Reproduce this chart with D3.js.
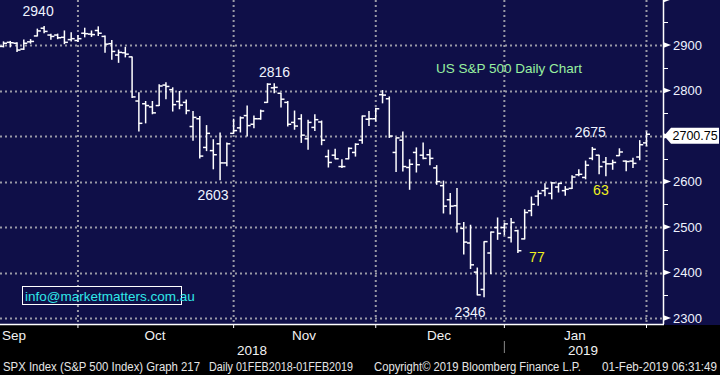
<!DOCTYPE html>
<html>
    <head>
        <meta charset="utf-8">
        <title>US S&P 500 Daily Chart</title>
        <script src='https://d3js.org/d3.v7.min.js'></script>
        <style>
            body { margin: 0; background: #000; }
            svg { display: block; }
            text { font-family: "Liberation Sans", Arial, sans-serif; }
        </style>
    </head>
    <body>
        <svg class="chart" width="720" height="375"></svg>

        <script>
            // trading days shown on the chart (Sep 2018 - Jan 2019)
            const dates = [
                "2018-09-13","2018-09-14","2018-09-17","2018-09-18","2018-09-19","2018-09-20","2018-09-21","2018-09-24","2018-09-25","2018-09-26","2018-09-27","2018-09-28",
                "2018-10-01","2018-10-02","2018-10-03","2018-10-04","2018-10-05","2018-10-08","2018-10-09","2018-10-10","2018-10-11","2018-10-12","2018-10-15","2018-10-16","2018-10-17","2018-10-18","2018-10-19","2018-10-22","2018-10-23","2018-10-24","2018-10-25","2018-10-26","2018-10-29","2018-10-30","2018-10-31",
                "2018-11-01","2018-11-02","2018-11-05","2018-11-06","2018-11-07","2018-11-08","2018-11-09","2018-11-12","2018-11-13","2018-11-14","2018-11-15","2018-11-16","2018-11-19","2018-11-20","2018-11-21","2018-11-23","2018-11-26","2018-11-27","2018-11-28","2018-11-29","2018-11-30",
                "2018-12-03","2018-12-04","2018-12-06","2018-12-07","2018-12-10","2018-12-11","2018-12-12","2018-12-13","2018-12-14","2018-12-17","2018-12-18","2018-12-19","2018-12-20","2018-12-21","2018-12-24","2018-12-26","2018-12-27","2018-12-28","2018-12-31",
                "2019-01-02","2019-01-03","2019-01-04","2019-01-07","2019-01-08","2019-01-09","2019-01-10","2019-01-11","2019-01-14","2019-01-15","2019-01-16","2019-01-17","2019-01-18","2019-01-22","2019-01-23","2019-01-24","2019-01-25","2019-01-28","2019-01-29","2019-01-30","2019-01-31"
            ]

            const opens = [
                2897,2906,2904,2891,2907,2920,2937,2922,2922,2917,2912,2910,
                2926,2924,2932,2919,2903,2878,2883,2874,2777,2771,2764,2767,2812,2802,2776,2774,2721,2738,2675,2668,2683,2641,2706,
                2718,2745,2726,2738,2774,2806,2794,2774,2730,2738,2694,2719,2731,2655,2658,2633,2650,2664,2691,2737,2738,
                2791,2782,2664,2691,2631,2664,2658,2659,2630,2591,2560,2547,2497,2465,2401,2363,2443,2499,2499,
                2477,2492,2474,2536,2568,2580,2574,2588,2580,2585,2615,2609,2651,2658,2643,2639,2657,2645,2645,2654,2685
            ]
            const highs = [
                2907,2908,2905,2911,2912,2935,2941,2924,2924,2931,2927,2921,
                2937,2931,2940,2920,2910,2889,2895,2874,2795,2776,2776,2813,2817,2806,2798,2779,2754,2743,2723,2692,2707,2685,2737,
                2742,2766,2744,2757,2815,2815,2794,2776,2755,2747,2735,2747,2733,2669,2671,2648,2674,2683,2744,2754,2761,
                2800,2786,2696,2709,2648,2674,2685,2670,2635,2601,2574,2585,2510,2504,2410,2468,2489,2520,2509,
                2519,2493,2538,2566,2580,2595,2598,2596,2589,2613,2626,2645,2675,2658,2653,2647,2672,2645,2651,2690,2709
            ]
            const lows = [
                2896,2896,2886,2890,2904,2920,2927,2913,2914,2903,2909,2908,
                2918,2919,2921,2884,2869,2862,2874,2785,2711,2729,2749,2767,2782,2755,2760,2749,2691,2652,2668,2628,2604,2635,2706,
                2709,2700,2718,2737,2774,2795,2764,2722,2715,2686,2671,2712,2681,2632,2650,2631,2650,2656,2684,2723,2733,
                2773,2697,2622,2623,2583,2621,2650,2637,2594,2531,2529,2489,2441,2409,2351,2347,2398,2473,2483,
                2467,2444,2474,2525,2548,2569,2562,2577,2570,2585,2613,2606,2648,2617,2613,2627,2657,2624,2631,2648,2679
            ]
            const closes = [
                2904,2905,2889,2904,2908,2931,2930,2919,2916,2906,2914,2914,
                2925,2923,2926,2902,2886,2884,2880,2786,2728,2767,2751,2810,2809,2769,2768,2756,2741,2656,2706,2659,2641,2683,2712,
                2740,2723,2738,2755,2814,2807,2781,2726,2722,2702,2730,2736,2691,2642,2650,2633,2673,2682,2744,2738,2760,
                2790,2700,2696,2633,2638,2637,2651,2651,2600,2546,2546,2507,2467,2417,2351,2468,2489,2486,2507,
                2510,2448,2532,2550,2574,2585,2597,2596,2583,2610,2616,2636,2671,2633,2639,2642,2665,2644,2640,2681,2704
            ]

            // month labels, month end bars, price axis ticks
            const months = [
                {label: "Sep", x: 14}, {label: "Oct", x: 155}, {label: "Nov", x: 304},
                {label: "Dec", x: 439}, {label: "Jan", x: 575}
            ]
            const monthEnds = ["2018-09-28","2018-10-31","2018-11-30","2018-12-31","2019-01-31"]
            const yTicks = [2300, 2400, 2500, 2600, 2700, 2800, 2900]
            const yMinor = [2350, 2450, 2550, 2650, 2750, 2850, 2950]

            // labels written on the chart: [text, date, value, dx, dy, colour]
            const notes = [
                ["2940", "2018-09-21", 2940.9, -6, -15, "#eef3ff"],
                ["2816", "2018-11-07", 2815.2, 7, -12, "#eef3ff"],
                ["2603", "2018-10-29", 2603.5, -7, 15, "#eef3ff"],
                ["2346", "2018-12-26", 2346.6, -14, 15, "#eef3ff"],
                ["2675", "2019-01-18", 2675.5, -2, -15, "#eef3ff"],
                ["77", "2019-01-03", 2444.0, 19, 4, "#f0f020"],
                ["63", "2019-01-23", 2612.9, -5, 14, "#f0f020"]
            ]
            const lastPrice = 2700.75

            const svg = d3.select("svg.chart")
            const width = +svg.attr("width")
            const plotRight = 663, plotBottom = 324

            const x = d3.scalePoint()
                .domain(dates)
                .range([3.5, 646.5])
            const y = d3.scaleLinear()
                .domain([2287, 2999])
                .range([plotBottom, 0])

            // backgrounds
            svg.append("rect").attr("width", width).attr("height", 375).attr("fill", "#000")
            svg.append("rect").attr("width", width).attr("height", plotBottom + 1).attr("fill", "#0f0f48")

            // dotted grid
            const grid = svg.append("g")
                .attr("stroke", "#9a9aa6")
                .attr("stroke-width", 2)
                .attr("stroke-dasharray", "2,3")
            grid.selectAll("line.h")
                .data(yTicks)
                .enter().append("line")
                    .attr("x1", 0).attr("x2", plotRight)
                    .attr("y1", d => Math.round(y(d)) + 0.5)
                    .attr("y2", d => Math.round(y(d)) + 0.5)
            grid.selectAll("line.v")
                .data(monthEnds)
                .enter().append("line")
                    .attr("x1", d => x(d)).attr("x2", d => x(d))
                    .attr("y1", 0).attr("y2", plotBottom)

            // ohlc bars
            const bars = svg.append("g")
                .attr("stroke", "#fff")
                .attr("stroke-width", 1.5)
                .selectAll("g")
                .data(dates)
                .enter().append("g")
            bars.append("line")
                .attr("x1", d => x(d)).attr("x2", d => x(d))
                .attr("y1", (d, i) => y(highs[i]) - 0.5)
                .attr("y2", (d, i) => y(lows[i]) + 0.5)
            bars.append("line")
                .attr("x1", d => x(d) - 3.5).attr("x2", d => x(d))
                .attr("y1", (d, i) => y(opens[i])).attr("y2", (d, i) => y(opens[i]))
            bars.append("line")
                .attr("x1", d => x(d)).attr("x2", d => x(d) + 3.5)
                .attr("y1", (d, i) => y(closes[i])).attr("y2", (d, i) => y(closes[i]))

            // notes
            svg.append("g")
                .selectAll("text")
                .data(notes)
                .enter().append("text")
                    .attr("x", d => x(d[1]) + d[3])
                    .attr("y", d => y(d[2]) + d[4])
                    .attr("text-anchor", "middle")
                    .attr("dominant-baseline", "central")
                    .attr("font-size", 14)
                    .attr("fill", d => d[5])
                    .text(d => d[0])

            svg.append("text")
                .attr("x", 436).attr("y", 68)
                .attr("dominant-baseline", "central")
                .attr("font-size", 13.5)
                .attr("fill", "#98f0a0")
                .text("US S&P 500 Daily Chart")

            // info box
            svg.append("rect")
                .attr("x", 22.5).attr("y", 286.5)
                .attr("width", 159).attr("height", 18)
                .attr("fill", "none").attr("stroke", "#fff").attr("stroke-width", 1)
            svg.append("text")
                .attr("x", 25).attr("y", 296)
                .attr("dominant-baseline", "central")
                .attr("font-size", 13.5)
                .attr("fill", "#30e8e8")
                .text("info@marketmatters.com.au")

            // right price axis
            const axis = svg.append("g")
            axis.append("line")
                .attr("x1", plotRight + 0.5).attr("x2", plotRight + 0.5)
                .attr("y1", 0).attr("y2", plotBottom)
                .attr("stroke", "#fff").attr("stroke-width", 1.5)
            axis.selectAll("line.minor")
                .data(yMinor)
                .enter().append("line")
                    .attr("x1", plotRight).attr("x2", plotRight + 5)
                    .attr("y1", d => Math.round(y(d)) + 0.5).attr("y2", d => Math.round(y(d)) + 0.5)
                    .attr("stroke", "#fff")
            axis.selectAll("path.tri")
                .data(yTicks.concat([3000]))
                .enter().append("path")
                    .attr("d", d => "M" + plotRight + "," + (y(d) - 3) + "L" + (plotRight + 8) + "," + y(d) + "L" + plotRight + "," + (y(d) + 3) + "Z")
                    .attr("fill", "#fff")
            axis.selectAll("text")
                .data(yTicks.filter(d => Math.abs(d - lastPrice) > 30))
                .enter().append("text")
                    .attr("x", 673).attr("y", d => y(d))
                    .attr("dominant-baseline", "central")
                    .attr("font-size", 13)
                    .attr("fill", "#eef3ff")
                    .text(d => d)

            // last price tag
            const ly = y(lastPrice)
            svg.append("path")
                .attr("d", "M664," + ly + "L671," + (ly - 8) + "L719," + (ly - 8) + "L719," + (ly + 8) + "L671," + (ly + 8) + "Z")
                .attr("fill", "#fff")
            svg.append("text")
                .attr("x", 672.5).attr("y", ly + 0.5)
                .attr("dominant-baseline", "central")
                .attr("font-size", 12.5)
                .attr("fill", "#000")
                .text(lastPrice.toFixed(2))

            // time axis
            svg.append("line")
                .attr("x1", 0).attr("x2", plotRight + 1)
                .attr("y1", plotBottom + 0.5).attr("y2", plotBottom + 0.5)
                .attr("stroke", "#fff").attr("stroke-width", 1.5)
            svg.selectAll("line.mt")
                .data(monthEnds)
                .enter().append("line")
                    .attr("x1", d => x(d)).attr("x2", d => x(d))
                    .attr("y1", plotBottom).attr("y2", plotBottom + 4)
                    .attr("stroke", "#fff")
            svg.selectAll("text.month")
                .data(months)
                .enter().append("text")
                    .attr("x", d => d.x).attr("y", 335)
                    .attr("text-anchor", "middle")
                    .attr("dominant-baseline", "central")
                    .attr("font-size", 13.5)
                    .attr("fill", "#f2f2f2")
                    .text(d => d.label)
            svg.append("text").attr("x", 252).attr("y", 350).attr("text-anchor", "middle")
                .attr("dominant-baseline", "central").attr("font-size", 13.5).attr("fill", "#f2f2f2").text("2018")
            svg.append("text").attr("x", 583).attr("y", 350).attr("text-anchor", "middle")
                .attr("dominant-baseline", "central").attr("font-size", 13.5).attr("fill", "#f2f2f2").text("2019")
            svg.append("line")
                .attr("x1", x("2018-12-31")).attr("x2", x("2018-12-31"))
                .attr("y1", 341).attr("y2", 353)
                .attr("stroke", "#888")

            // footer: [text, left, width]
            const footer = [
                ["SPX Index (S&P 500 Index) Graph 217", 3, 197],
                ["Daily 01FEB2018-01FEB2019", 209, 144],
                ["Copyright\u00a9 2019 Bloomberg Finance L.P.", 374, 207],
                ["01-Feb-2019 06:31:49", 602, 115]
            ]
            svg.selectAll("text.foot")
                .data(footer)
                .enter().append("text")
                    .attr("x", d => d[1]).attr("y", 367)
                    .attr("dominant-baseline", "central")
                    .attr("font-size", 12)
                    .attr("textLength", d => d[2])
                    .attr("lengthAdjust", "spacingAndGlyphs")
                    .attr("fill", "#e6e6e6")
                    .text(d => d[0])
        </script>
    </body>
</html>
